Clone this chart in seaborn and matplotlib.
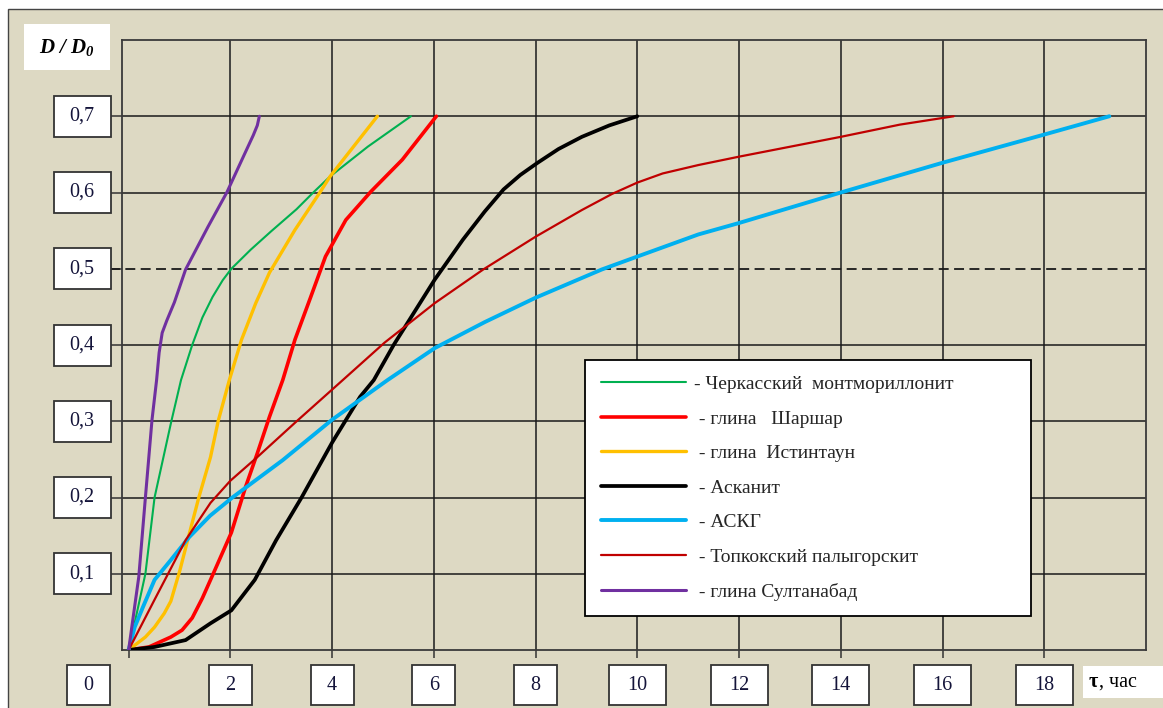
import numpy as np
import pandas as pd
import matplotlib
matplotlib.use('Agg')
import matplotlib.pyplot as plt
import seaborn as sns
from matplotlib.patches import Rectangle

# --- data (tau in hours, D/D0) ---
tau_cherk = [0, 0.15, 0.33, 0.51, 0.84, 1.03, 1.25, 1.45, 1.65, 1.85, 2.02, 2.4, 2.8, 3.3, 3.63, 3.96, 4.7, 5.55]
dd_cherk = [0, 0.045, 0.1, 0.2, 0.3, 0.354, 0.4, 0.436, 0.463, 0.485, 0.5, 0.525, 0.549, 0.578, 0.6, 0.621, 0.66, 0.7]

tau_shar = [0, 0.4, 0.83, 1.05, 1.25, 1.45, 1.67, 2.02, 2.3, 2.53, 2.77, 3.03, 3.27, 3.58, 3.87, 4.27, 4.76, 5.38, 6.05]
dd_shar = [0, 0.004, 0.017, 0.026, 0.042, 0.068, 0.101, 0.154, 0.214, 0.258, 0.306, 0.354, 0.407, 0.463, 0.516, 0.564, 0.601, 0.643, 0.7]

tau_ist = [0, 0.33, 0.51, 0.7, 0.83, 1.01, 1.16, 1.38, 1.61, 1.76, 1.98, 2.22, 2.5, 2.77, 3.27, 3.76, 3.96, 4.89]
dd_ist = [0, 0.017, 0.03, 0.048, 0.064, 0.105, 0.144, 0.2, 0.253, 0.3, 0.354, 0.407, 0.455, 0.495, 0.551, 0.6, 0.621, 0.7]

tau_ask = [0, 0.51, 1.12, 1.61, 2.02, 2.48, 2.9, 3.4, 4.0, 4.55, 4.82, 5.21, 6.02, 6.57, 7.0, 7.37, 7.7, 8.04, 8.45, 8.91, 9.45, 10.0]
dd_ask = [0, 0.004, 0.013, 0.035, 0.052, 0.092, 0.144, 0.2, 0.272, 0.332, 0.354, 0.4, 0.486, 0.538, 0.575, 0.604, 0.623, 0.639, 0.657, 0.673, 0.688, 0.7]

tau_askg = [0, 0.12, 0.28, 0.51, 0.83, 1.19, 1.6, 2.04, 3.03, 4.0, 5.09, 6.02, 7.0, 8.0, 9.3, 10.0, 11.2, 12.0, 14.0, 16.0, 18.0, 19.28]
dd_askg = [0, 0.03, 0.056, 0.092, 0.118, 0.148, 0.176, 0.2, 0.249, 0.302, 0.354, 0.396, 0.43, 0.462, 0.499, 0.516, 0.545, 0.56, 0.6, 0.639, 0.676, 0.7]

tau_topk = [0, 0.51, 1.12, 1.61, 2.0, 2.53, 3.27, 4.21, 5.03, 6.02, 6.97, 8.0, 8.91, 9.5, 10.0, 10.5, 11.2, 12.0, 14.0, 15.16, 16.22]
dd_topk = [0, 0.066, 0.144, 0.193, 0.222, 0.253, 0.298, 0.354, 0.403, 0.455, 0.499, 0.542, 0.577, 0.598, 0.613, 0.625, 0.636, 0.647, 0.673, 0.689, 0.7]

tau_sult = [0, 0.2, 0.33, 0.46, 0.55, 0.6, 0.66, 0.75, 0.9, 1.12, 1.56, 1.93, 2.29, 2.45, 2.53, 2.57]
dd_sult = [0, 0.096, 0.2, 0.302, 0.354, 0.39, 0.416, 0.432, 0.456, 0.499, 0.555, 0.6, 0.652, 0.675, 0.688, 0.7]

names = ["- Черкасский  монтмориллонит", " - глина   Шаршар", " - глина  Истинтаун",
         " - Асканит", " - АСКГ", " - Топкокский палыгорскит", " - глина Султанабад"]
series = [(tau_cherk, dd_cherk), (tau_shar, dd_shar), (tau_ist, dd_ist), (tau_ask, dd_ask),
          (tau_askg, dd_askg), (tau_topk, dd_topk), (tau_sult, dd_sult)]
colors = ['#00B050', '#FF0000', '#FFC000', '#000000', '#00B0F0', '#C00000', '#7030A0']
widths = [1.5, 2.6, 2.4, 2.7, 2.8, 1.6, 2.2]

xticks = [0, 2, 4, 6, 8, 10, 12, 14, 16, 18]
yticks = [0.1, 0.2, 0.3, 0.4, 0.5, 0.6, 0.7]
ytick_labels = ['0,1', '0,2', '0,3', '0,4', '0,5', '0,6', '0,7']

bg = '#DDD9C3'
sns.set_theme(style='white')
plt.rcParams['font.family'] = ['Liberation Serif', 'DejaVu Serif']
plt.rcParams['mathtext.fontset'] = 'custom'
plt.rcParams['mathtext.it'] = 'Liberation Serif:bold:italic'
plt.rcParams['mathtext.rm'] = 'Liberation Serif:bold:italic'

W, H = 1163, 708
fig = plt.figure(figsize=(W / 100, H / 100), dpi=100)
fig.patch.set_facecolor('white')
fig.add_artist(Rectangle((8 / W, -0.1), 1.1, 1.1 - 9 / H, transform=fig.transFigure,
                         facecolor=bg, edgecolor='#444444', lw=1.0, zorder=-10))

ax = fig.add_axes([122 / W, 1 - 650 / H, (1146 - 122) / W, (650 - 40) / H])
ax.set_facecolor(bg)
ax.set_xlim(-0.13, 20)
ax.set_ylim(0, 0.8)

# grid
for v in xticks[1:]:
    ax.axvline(v, color='#2a2a2a', lw=1.2, zorder=1)
for v in yticks:
    if v == 0.5:
        ax.axhline(v, xmin=-0.012, xmax=1, color='#1a1a1a', lw=1.3, ls=(0, (5.5, 3)),
                   zorder=1, clip_on=False)
    else:
        ax.axhline(v, color='#1a1a1a', lw=1.1, zorder=1)

for (t, d), name, c, w in zip(series, names, colors, widths):
    df = pd.DataFrame({'tau': t, 'D': d})
    sns.lineplot(data=df, x='tau', y='D', color=c, lw=w, label=name, sort=False,
                 estimator=None, ax=ax, zorder=3)

ax.set_xlabel('')
ax.set_ylabel('')
ax.set_xticks(xticks)
ax.set_yticks(yticks)
ax.tick_params(axis='x', bottom=True, direction='out', length=6, width=1.1, colors='#333333',
               labelbottom=False)
ax.tick_params(axis='y', left=True, direction='out', length=8.5, width=1.1, colors='#333333',
               labelleft=False)
for s in ax.spines.values():
    s.set_color('#3a3a3a')
    s.set_linewidth(1.3)

leg = ax.legend(loc='upper left', bbox_to_anchor=(585 / W, 1 - 612 / H, 446 / W, 252 / H),
                bbox_transform=fig.transFigure, mode='expand', borderaxespad=0,
                frameon=True, fancybox=False, edgecolor='black', framealpha=1, facecolor='white',
                prop={'family': 'Liberation Serif', 'size': 14}, handlelength=4.4,
                handletextpad=0.4, labelspacing=0.87, borderpad=0.8)
leg.get_frame().set_linewidth(1.3)


def box(cx, cy, w, h, text, edge=True, **kw):
    # cx, cy in pixels from top-left of the picture
    fig.add_artist(Rectangle(((cx - w / 2) / W, 1 - (cy + h / 2) / H), w / W, h / H,
                             transform=fig.transFigure, facecolor='white',
                             edgecolor='#333333' if edge else 'none', lw=1.3, zorder=5))
    if text:
        fig.text(cx / W, 1 - cy / H, text, ha='center', va='center', zorder=6, **kw)


lab = dict(fontsize=14.5, color='#14143a', family='Liberation Serif')

# y tick boxes
for v, s in zip(yticks, ytick_labels):
    py = H - ax.transData.transform((0, v))[1]
    box(82, py, 57, 41, s, **lab)

# x tick boxes
for v in xticks:
    px = ax.transData.transform((v, 0))[0]
    if v == 0:
        px = 88
    box(px, 685, 43 if v < 10 else 57, 40, str(v), **lab)

# axis titles
box(67, 47, 86, 45, r'$D\ /\ D_0$', edge=False, fontsize=15, color='black')
box(1125, 682, 84, 32, None, edge=False)
fig.text(1089 / W, 1 - 682 / H, 'τ', ha='left', va='center', fontsize=14.5, fontweight='bold',
         color='black', zorder=6)
fig.text(1099 / W, 1 - 682 / H, ', час', ha='left', va='center', fontsize=14.5, color='black',
         zorder=6)

fig.savefig('out.png', dpi=100, facecolor=fig.get_facecolor())
